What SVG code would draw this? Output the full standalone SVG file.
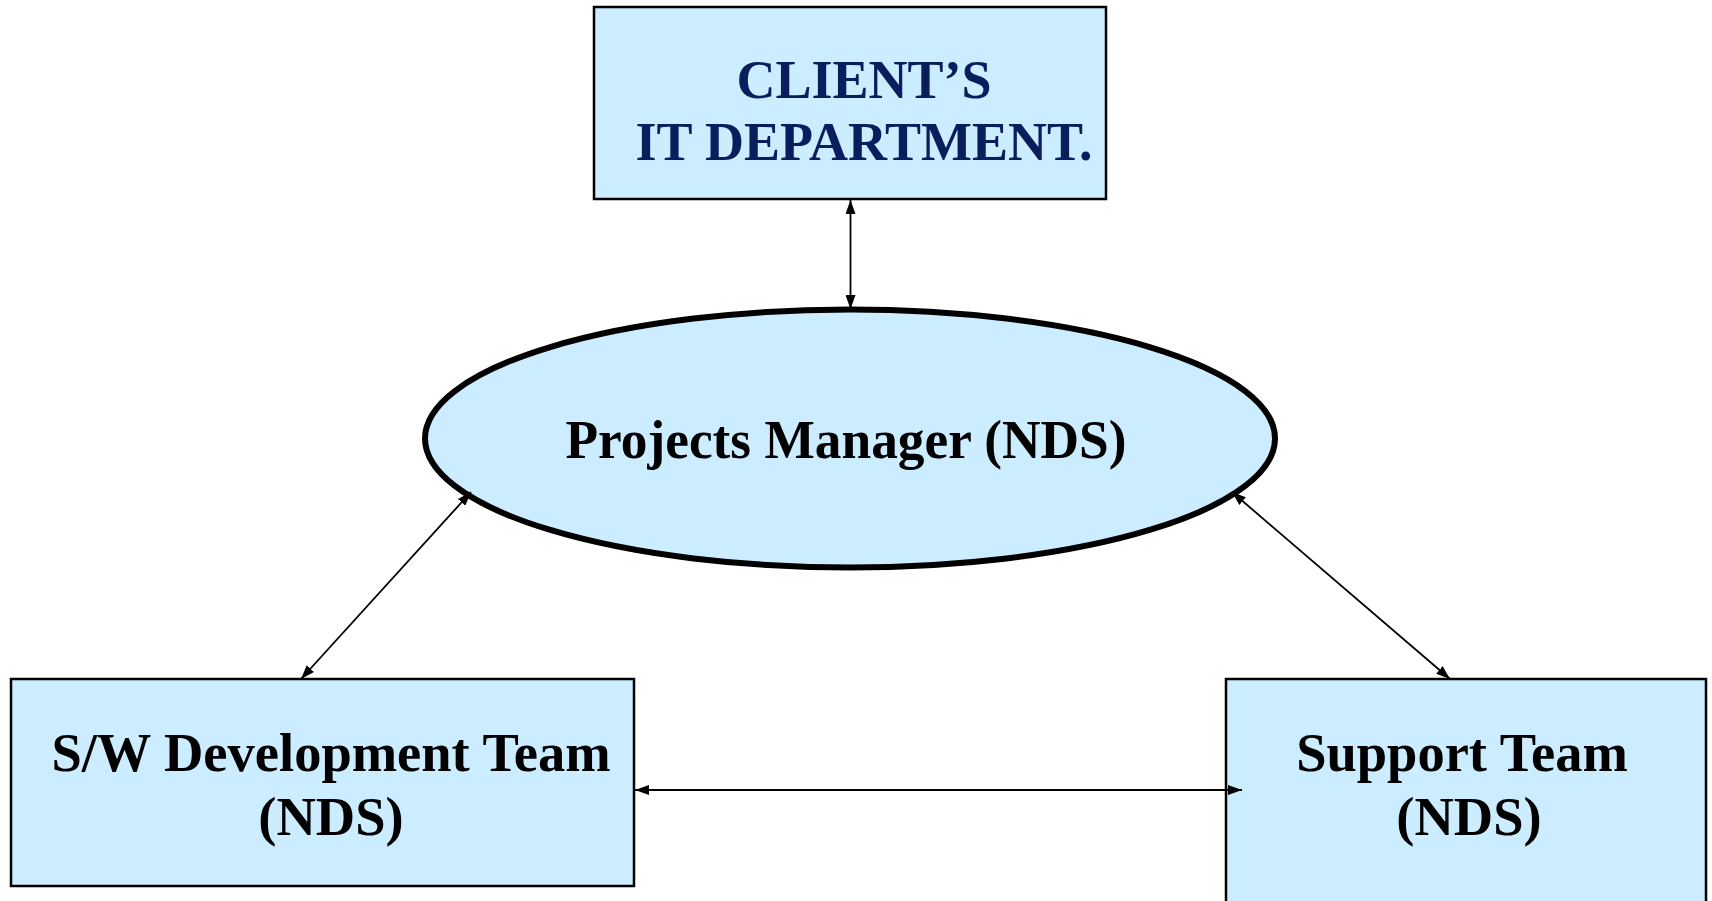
<svg xmlns="http://www.w3.org/2000/svg" width="1712" height="901" viewBox="0 0 1712 901">
<style>
.box{fill:#CCECFF;stroke:#000;stroke-width:2.5}
.ell{fill:#CCECFF;stroke:#000;stroke-width:6}
.t{font-family:"Liberation Serif","Times New Roman",serif;font-weight:bold;text-anchor:middle}
.navy{fill:#0a1e5e;font-size:54px}
.blk{fill:#000;font-size:54.5px}
.c{stroke:#000;stroke-width:1.8;fill:none;marker-start:url(#a);marker-end:url(#a)}
</style>
<defs>
<marker id="a" viewBox="0 0 14 10" refX="14" refY="5" markerWidth="14" markerHeight="10" markerUnits="userSpaceOnUse" orient="auto-start-reverse">
<path d="M0,0 L14,5 L0,10 Z" fill="#000"/>
</marker>
</defs>
<g id="client">
<rect class="box" x="594" y="7" width="512" height="192"/>
<text class="t navy" x="864" y="98">CLIENT’S</text>
<text class="t navy" x="864" y="160">IT DEPARTMENT.</text>
</g>
<g id="pm">
<ellipse class="ell" cx="850" cy="438.5" rx="425" ry="129"/>
<text class="t blk" x="846" y="458" font-size="57" textLength="561" lengthAdjust="spacingAndGlyphs">Projects Manager (NDS)</text>
</g>
<g id="dev">
<rect class="box" x="11" y="679" width="623" height="207"/>
<text class="t blk" x="331" y="771">S/W Development Team</text>
<text class="t blk" x="331" y="835">(NDS)</text>
</g>
<g id="support">
<rect class="box" x="1226" y="679" width="480" height="240"/>
<text class="t blk" x="1462" y="771">Support Team</text>
<text class="t blk" x="1469" y="835">(NDS)</text>
</g>
<g id="connectors">
<line class="c" x1="850.5" y1="200" x2="850.5" y2="309"/>
<line class="c" x1="471" y1="492" x2="301" y2="679"/>
<line class="c" x1="1232" y1="492" x2="1450" y2="679"/>
<line class="c" x1="635" y1="790" x2="1242" y2="790"/>
</g>
</svg>
